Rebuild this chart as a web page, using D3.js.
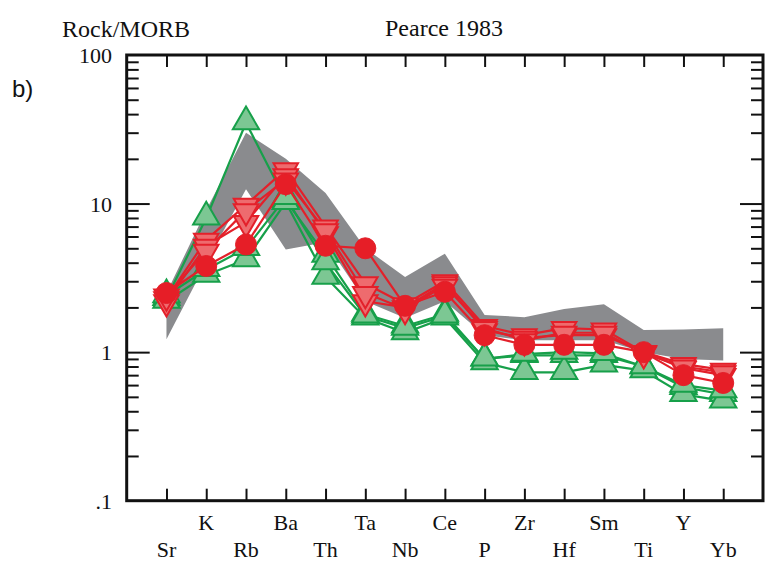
<!DOCTYPE html>
<html>
<head>
<meta charset="utf-8">
<script src="https://cdn.jsdelivr.net/npm/d3@7"></script>
<style>
  body { margin: 0; background: #fff; }
  svg text { font-family: "Liberation Serif", "Times New Roman", serif; fill: #111; }
</style>
</head>
<body>
<div id="chart"></div>
<script>
// Element order along the spider diagram
const elements = ['Sr', 'K', 'Rb', 'Ba', 'Th', 'Ta', 'Nb', 'Ce', 'P', 'Zr', 'Hf', 'Sm', 'Ti', 'Y', 'Yb'];

// Grey reference field (upper and lower edges)
const fieldUpper = [2.5, 9.0, 30, 20, 11.8, 5.0, 3.2, 4.6, 1.78, 1.72, 1.95, 2.1, 1.41, 1.42, 1.45];
const fieldLower = [1.22, 4.0, 12.5, 4.9, 5.5, 2.2, 1.7, 2.2, 1.3, 1.2, 1.2, 1.2, 1.0, 0.9, 0.88];

// Green triangles
const green1 = [2.3, 8.0, 35, 10.5, 4.5, 1.8, 1.5, 1.8, 0.9, 0.95, 0.95, 0.95, 0.8, 0.58, 0.52];
const green2 = [2.2, 3.3, 4.2, 10.2, 3.2, 1.7, 1.35, 1.7, 0.85, 0.73, 0.73, 0.82, 0.75, 0.52, 0.47];
const green3 = [2.4, 3.6, 5.0, 11, 4.0, 1.75, 1.45, 1.75, 0.9, 0.97, 1.0, 0.98, 0.8, 0.6, 0.55];

// Red inverted triangles
const red1 = [2.3, 5.7, 9.8, 17, 7.0, 2.9, 2.1, 3.0, 1.5, 1.3, 1.45, 1.42, 1.0, 0.83, 0.76];
const red2 = [2.2, 5.2, 7.5, 15.5, 6.3, 2.2, 2.0, 2.9, 1.4, 1.25, 1.3, 1.3, 1.0, 0.78, 0.7];
const red3 = [2.4, 4.8, 9.0, 14.5, 6.6, 2.5, 1.95, 2.8, 1.45, 1.2, 1.35, 1.35, 0.98, 0.8, 0.73];

// Red circles
const circle1 = [2.5, 3.8, 5.3, 13.5, 5.2, 5.0, 2.05, 2.55, 1.3, 1.12, 1.12, 1.12, 1.0, 0.7, 0.62];

const yMajor = [0.1, 1, 10, 100];
const yMajorLabels = ['.1', '1', '10', '100'];

const width = 768, height = 571;
const plotLeft = 126.7, plotRight = 763, plotTop = 55, plotBottom = 500.7;

const svg = d3.select('#chart').append('svg')
  .attr('width', width)
  .attr('height', height);

const x = d3.scaleLinear().domain([-1, elements.length]).range([plotLeft, plotRight]);
const y = d3.scaleLog().domain([0.1, 100]).range([plotBottom, plotTop]);

// minor ticks 2..9 for each decade
let yMinor = [];
[0.1, 1, 10].forEach(function(d) {
  for (let k = 2; k <= 9; k++) yMinor.push(d * k);
});

// Grey field
const fieldPts = elements.map((e, i) => [x(i), y(fieldUpper[i])])
  .concat(elements.map((e, i) => [x(i), y(fieldLower[i])]).reverse());
svg.append('path')
  .attr('d', d3.line()(fieldPts) + 'Z')
  .attr('fill', '#8a8b8e');

const line = d3.line()
  .x((d, i) => x(i))
  .y(d => y(d));

const greenStroke = '#17a04a', greenFill = '#7cc793';
const redStroke = '#e3202a', redFill = '#ee6b6e', circleFill = '#e61e27';

function drawLine(vals, color) {
  svg.append('path')
    .attr('d', line(vals))
    .attr('fill', 'none')
    .attr('stroke', color)
    .attr('stroke-width', 2.2)
    .attr('stroke-linejoin', 'round');
}

const triUp = d3.symbol().type(d3.symbolTriangle).size(300);
const triDown = d3.symbol().type(d3.symbolTriangle).size(260);

function drawMarkers(vals, kind) {
  let g = svg.append('g');
  if (kind === 'up') {
    g.selectAll('path').data(vals).enter().append('path')
      .attr('d', triUp())
      .attr('transform', (d, i) => 'translate(' + x(i) + ',' + (y(d) - 1) + ')')
      .attr('fill', greenFill)
      .attr('stroke', greenStroke)
      .attr('stroke-width', 2);
  } else if (kind === 'down') {
    g.selectAll('path').data(vals).enter().append('path')
      .attr('d', triDown())
      .attr('transform', (d, i) => 'translate(' + x(i) + ',' + (y(d) + 1) + ') rotate(180)')
      .attr('fill', redFill)
      .attr('stroke', redStroke)
      .attr('stroke-width', 2);
  } else {
    g.selectAll('circle').data(vals).enter().append('circle')
      .attr('cx', (d, i) => x(i))
      .attr('cy', d => y(d))
      .attr('r', 10.5)
      .attr('fill', circleFill)
      .attr('stroke', redStroke)
      .attr('stroke-width', 1);
  }
}

[green1, green2, green3].forEach(s => drawLine(s, greenStroke));
[green1, green2, green3].forEach(s => drawMarkers(s, 'up'));
[red1, red2, red3, circle1].forEach(s => drawLine(s, redStroke));
[red1, red2, red3].forEach(s => drawMarkers(s, 'down'));
drawMarkers(circle1, 'circle');

// Axes: ticks point inward on all four sides
function styleAxis(g) {
  g.select('.domain').remove();
  g.selectAll('.tick line').attr('stroke', '#111').attr('stroke-width', 2);
  g.selectAll('.tick text').remove();
}

const idx = d3.range(elements.length);
svg.append('g')
  .attr('transform', 'translate(0,' + plotBottom + ')')
  .call(d3.axisBottom(x).tickValues(idx).tickSize(-12))
  .call(styleAxis);
svg.append('g')
  .attr('transform', 'translate(0,' + plotTop + ')')
  .call(d3.axisTop(x).tickValues(idx).tickSize(-12))
  .call(styleAxis);

svg.append('g')
  .attr('transform', 'translate(' + plotLeft + ',0)')
  .call(d3.axisLeft(y).tickValues(yMinor).tickSize(-12))
  .call(styleAxis);
svg.append('g')
  .attr('transform', 'translate(' + plotLeft + ',0)')
  .call(d3.axisLeft(y).tickValues([1, 10]).tickSize(-23))
  .call(styleAxis);
svg.append('g')
  .attr('transform', 'translate(' + plotRight + ',0)')
  .call(d3.axisRight(y).tickValues(yMinor).tickSize(-12))
  .call(styleAxis);
svg.append('g')
  .attr('transform', 'translate(' + plotRight + ',0)')
  .call(d3.axisRight(y).tickValues([1, 10]).tickSize(-23))
  .call(styleAxis);

// Frame
svg.append('rect')
  .attr('x', plotLeft)
  .attr('y', plotTop)
  .attr('width', plotRight - plotLeft)
  .attr('height', plotBottom - plotTop)
  .attr('fill', 'none')
  .attr('stroke', '#111')
  .attr('stroke-width', 3);

// Y labels
svg.selectAll('.ylab').data(yMajor).enter().append('text')
  .attr('class', 'ylab')
  .attr('x', 112)
  .attr('y', d => y(d) + 8)
  .attr('text-anchor', 'end')
  .style('font-size', '22px')
  .text((d, i) => yMajorLabels[i]);

// X labels, staggered in two rows
svg.selectAll('.xlab').data(elements).enter().append('text')
  .attr('class', 'xlab')
  .attr('x', (d, i) => x(i))
  .attr('y', (d, i) => i % 2 === 0 ? 557 : 530)
  .attr('text-anchor', 'middle')
  .style('font-size', '22px')
  .text(d => d);

// Titles
svg.append('text')
  .attr('x', 62)
  .attr('y', 37)
  .style('font-size', '24px')
  .text('Rock/MORB');
svg.append('text')
  .attr('x', 385)
  .attr('y', 36)
  .style('font-size', '24px')
  .text('Pearce 1983');
svg.append('text')
  .attr('x', 12)
  .attr('y', 97)
  .style('font-family', '"Liberation Sans", Arial, sans-serif')
  .style('font-size', '24px')
  .text('b)');
</script>
</body>
</html>
